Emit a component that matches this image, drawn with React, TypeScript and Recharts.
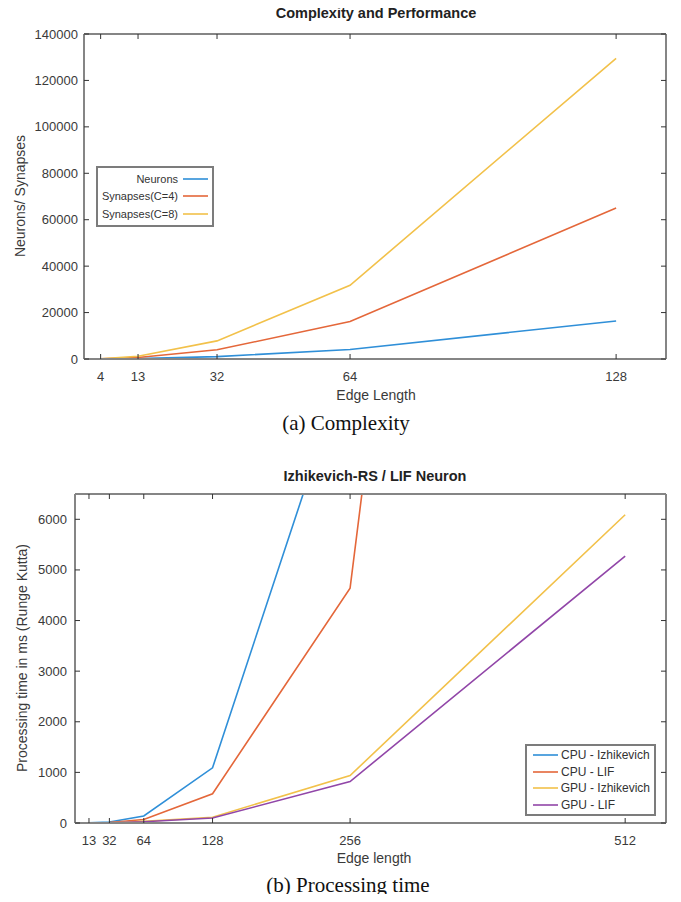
import { LineChart, Line, XAxis, YAxis, Legend } from "recharts"

// (a) network size against grid edge length
const edgeA = [4, 13, 32, 64, 128]
const neurons = [16, 169, 1024, 4096, 16384]
const synapsesC4 = [48, 624, 3968, 16128, 65024]
const synapsesC8 = [84, 1200, 7812, 31752, 129540]
const yTicksA = [0, 20000, 40000, 60000, 80000, 100000, 120000, 140000]

// (b) processing time (ms) against grid edge length
const edgeB = [13, 32, 64, 128, 256, 512]
const cpuIzhikevich = [2, 20, 140, 1090, 9300, null]
const cpuLif = [1, 10, 70, 578, 4640, 48000]
const gpuIzhikevich = [1, 5, 33, 115, 937, 6090]
const gpuLif = [1, 5, 25, 98, 819, 5272]
const yTicksB = [0, 1000, 2000, 3000, 4000, 5000, 6000]

const seriesA = [
  { key: "neurons", name: "Neurons", color: "#2f8fd8" },
  { key: "syn4", name: "Synapses(C=4)", color: "#e4673a" },
  { key: "syn8", name: "Synapses(C=8)", color: "#f2c14a" },
]

const seriesB = [
  { key: "cpuIzh", name: "CPU - Izhikevich", color: "#2f8fd8" },
  { key: "cpuLif", name: "CPU - LIF", color: "#e4673a" },
  { key: "gpuIzh", name: "GPU - Izhikevich", color: "#f2c14a" },
  { key: "gpuLif", name: "GPU - LIF", color: "#9146a8" },
]

const dataA = edgeA.map((edge, i) => ({
  edge,
  neurons: neurons[i],
  syn4: synapsesC4[i],
  syn8: synapsesC8[i],
}))

const dataB = edgeB.map((edge, i) => ({
  edge,
  cpuIzh: cpuIzhikevich[i],
  cpuLif: cpuLif[i],
  gpuIzh: gpuIzhikevich[i],
  gpuLif: gpuLif[i],
}))

const FONT = '"Liberation Sans", Arial, sans-serif'
const SERIF = '"Liberation Serif", "Times New Roman", serif'
const BOX = { stroke: "#858585", strokeWidth: 2 }
const TICK = "#333"
const LABEL = "#3a3a3a"

// box-style ticks: marks point into the plot, labels sit outside
const BottomTick = ({ x, y, payload }: any) => (
  <g>
    <line x1={x} y1={y} x2={x} y2={y - 5} stroke={TICK} />
    <text x={x} y={y + 17} textAnchor="middle" dominantBaseline="central" fontSize={13} fontFamily={FONT} fill={LABEL}>
      {payload.value}
    </text>
  </g>
)

const TopTick = ({ x, y }: any) => <line x1={x} y1={y} x2={x} y2={y + 5} stroke={TICK} />

const RightTick = ({ x, y }: any) => <line x1={x} y1={y} x2={x - 5} y2={y} stroke={TICK} />

const makeLeftTick = (gap: number) => ({ x, y, payload }: any) => (
  <g>
    <line x1={x} y1={y} x2={x + 5} y2={y} stroke={TICK} />
    <text x={x - gap} y={y} textAnchor="end" dominantBaseline="central" fontSize={13} fontFamily={FONT} fill={LABEL}>
      {payload.value}
    </text>
  </g>
)

const LeftTickA = makeLeftTick(6)
const LeftTickB = makeLeftTick(8)

const Sample = ({ color }: { color: string }) => (
  <svg width={25} height={4} style={{ display: "block" }}>
    <line x1={0} y1={2} x2={25} y2={2} stroke={color} strokeWidth={1.6} />
  </svg>
)

const LegendA = () => (
  <div style={{ border: "2px solid #7c7c7c", background: "#fff", padding: "2px 4px 2px 4px", fontFamily: FONT, fontSize: 11, color: "#333", width: 118, boxSizing: "border-box" }}>
    {seriesA.map((s) => (
      <div key={s.key} style={{ display: "flex", justifyContent: "flex-end", alignItems: "center", height: 17.5 }}>
        <span style={{ whiteSpace: "nowrap" }}>{s.name}</span>
        <span style={{ marginLeft: 5 }}>
          <Sample color={s.color} />
        </span>
      </div>
    ))}
  </div>
)

const LegendB = () => (
  <div style={{ border: "2px solid #7c7c7c", background: "#fff", padding: "1px 4px 1px 6px", fontFamily: FONT, fontSize: 12, color: "#333", width: 131, boxSizing: "border-box" }}>
    {seriesB.map((s) => (
      <div key={s.key} style={{ display: "flex", alignItems: "center", height: 16.5 }}>
        <Sample color={s.color} />
        <span style={{ marginLeft: 3, whiteSpace: "nowrap" }}>{s.name}</span>
      </div>
    ))}
  </div>
)

const centered = (x: number, y: number, extra: any = {}) => ({
  position: "absolute" as const,
  left: x,
  top: y,
  transform: "translate(-50%, -50%)",
  whiteSpace: "nowrap" as const,
  lineHeight: 1,
  ...extra,
})

const rotated = (x: number, y: number, extra: any = {}) =>
  centered(x, y, { transform: "translate(-50%, -50%) rotate(-90deg)", ...extra })

// axes are 1px thick so the margins alone place the plot box
const axisCommon = { type: "number" as const, interval: 0 as const, tickSize: 0, tickMargin: 0, axisLine: BOX, tickLine: false, allowDataOverflow: true }

export default function App() {
  return (
    <div style={{ position: "relative", width: 681, height: 902, margin: -8, background: "#fff", fontFamily: FONT }}>
      {/* (a) Complexity */}
      <div style={{ position: "absolute", left: 0, top: 0 }}>
        <LineChart width={681} height={440} data={dataA} margin={{ top: 33, right: 14, bottom: 80, left: 83 }}>
          <XAxis xAxisId="b" dataKey="edge" domain={[0, 140]} ticks={edgeA} height={1} tick={BottomTick} {...axisCommon} />
          <XAxis xAxisId="t" orientation="top" dataKey="edge" domain={[0, 140]} ticks={edgeA} height={1} tick={TopTick} {...axisCommon} />
          <YAxis yAxisId="l" domain={[0, 140000]} ticks={yTicksA} width={1} tick={LeftTickA} {...axisCommon} />
          <YAxis yAxisId="r" orientation="right" domain={[0, 140000]} ticks={yTicksA} width={1} tick={RightTick} {...axisCommon} />
          <Legend layout="horizontal" align="center" verticalAlign="middle" content={<LegendA />} wrapperStyle={{ left: 96, top: 166, width: "auto" }} />
          {seriesA.map((s) => (
            <Line key={s.key} xAxisId="b" yAxisId="l" type="linear" dataKey={s.key} name={s.name} stroke={s.color} strokeWidth={1.6} dot={false} isAnimationActive={false} />
          ))}
        </LineChart>
      </div>
      <div style={centered(376, 13, { fontSize: 14.5, fontWeight: "bold", color: "#222" })}>Complexity and Performance</div>
      <div style={centered(376, 394.5, { fontSize: 14, color: LABEL })}>Edge Length</div>
      <div style={rotated(20, 196, { fontSize: 14, color: LABEL })}>Neurons/ Synapses</div>
      <div style={centered(346, 423, { fontSize: 21, fontFamily: SERIF, color: "#111" })}>(a) Complexity</div>

      {/* (b) Processing time */}
      <div style={{ position: "absolute", left: 0, top: 450 }}>
        <LineChart width={681} height={452} data={dataB} margin={{ top: 43, right: 14, bottom: 78, left: 74 }}>
          <XAxis xAxisId="b" dataKey="edge" domain={[0, 550]} ticks={edgeB} height={1} tick={BottomTick} {...axisCommon} />
          <XAxis xAxisId="t" orientation="top" dataKey="edge" domain={[0, 550]} ticks={edgeB} height={1} tick={TopTick} {...axisCommon} />
          <YAxis yAxisId="l" domain={[0, 6500]} ticks={yTicksB} width={1} tick={LeftTickB} {...axisCommon} />
          <YAxis yAxisId="r" orientation="right" domain={[0, 6500]} ticks={yTicksB} width={1} tick={RightTick} {...axisCommon} />
          <Legend layout="horizontal" align="center" verticalAlign="middle" content={<LegendB />} wrapperStyle={{ left: 525, top: 294, width: "auto" }} />
          {seriesB.map((s) => (
            <Line key={s.key} xAxisId="b" yAxisId="l" type="linear" dataKey={s.key} name={s.name} stroke={s.color} strokeWidth={1.6} dot={false} isAnimationActive={false} />
          ))}
        </LineChart>
      </div>
      <div style={centered(375, 476, { fontSize: 14.5, fontWeight: "bold", color: "#222" })}>Izhikevich-RS / LIF Neuron</div>
      <div style={centered(374, 857.5, { fontSize: 14, color: LABEL })}>Edge length</div>
      <div style={rotated(22, 658, { fontSize: 14, color: LABEL })}>Processing time in ms (Runge Kutta)</div>
      <div style={centered(348, 885, { fontSize: 21, fontFamily: SERIF, color: "#111" })}>(b) Processing time</div>
    </div>
  )
}
